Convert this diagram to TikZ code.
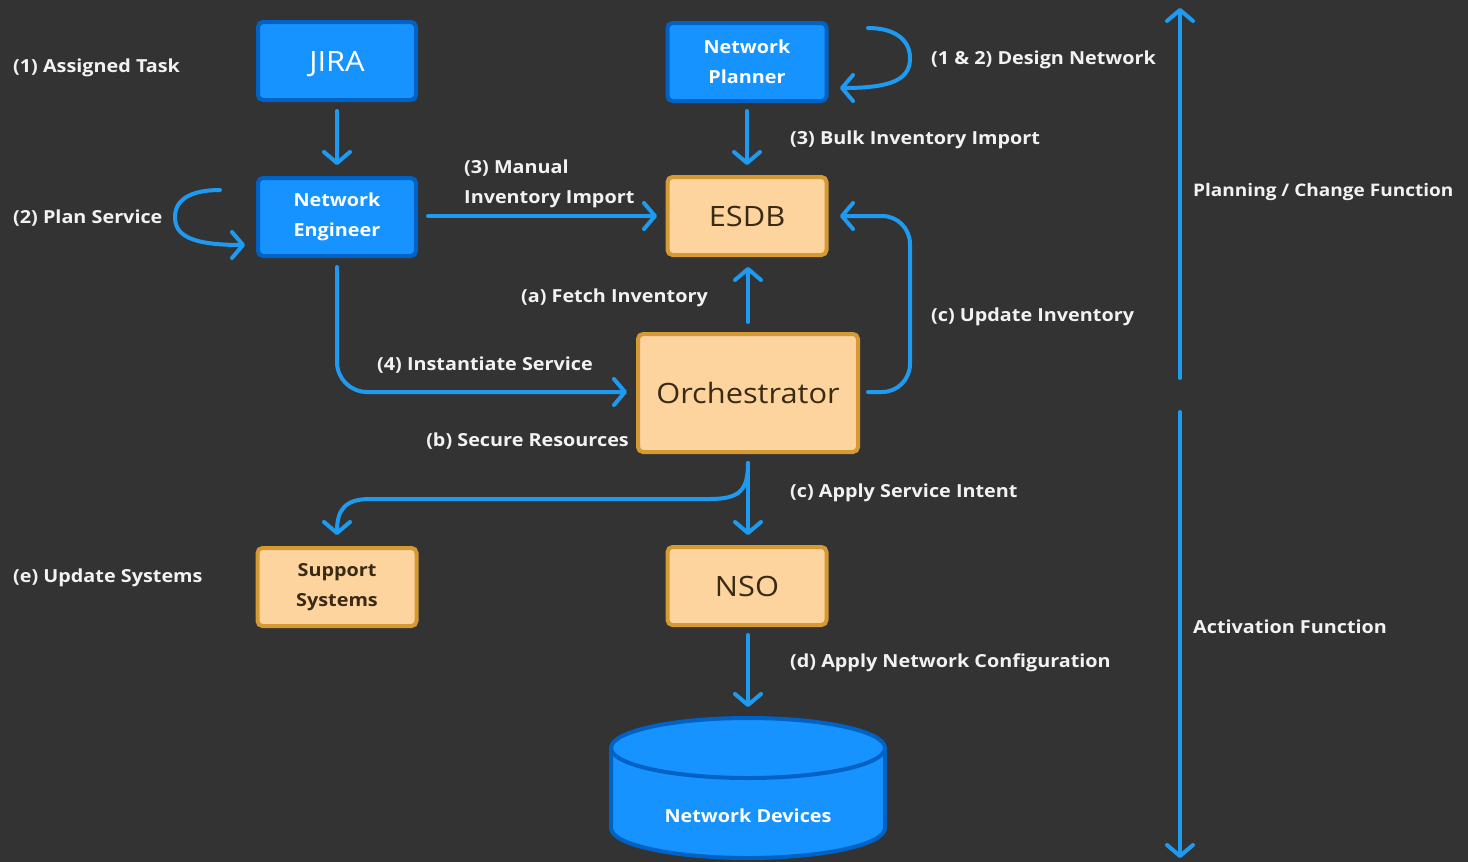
\documentclass[tikz,border=0pt]{standalone}
\usepackage{fontspec}
\setmainfont{Open Sans}[FakeStretch=1.1]
\usetikzlibrary{arrows.meta}
\definecolor{bg}{HTML}{333333}
\definecolor{bfill}{HTML}{1793FF}
\definecolor{bdraw}{HTML}{0062C4}
\definecolor{ofill}{HTML}{FDD49E}
\definecolor{odraw}{HTML}{D59A33}
\definecolor{otext}{HTML}{3A2A14}
\definecolor{arr}{HTML}{1E9BF0}
\definecolor{lbl}{HTML}{F2F2F2}
\tikzset{
  bluebox/.style={draw=bdraw, fill=bfill, line width=4pt, rounded corners=5pt, text=white, align=center, inner sep=0pt},
  orabox/.style={draw=odraw, fill=ofill, line width=4pt, rounded corners=5pt, text=otext, align=center, inner sep=0pt},
  bigtext/.style={font=\fontsize{28}{30}\selectfont, text height=20pt, text depth=0pt},
  lab/.style={text=lbl, font=\fontsize{18}{30}\selectfont\bfseries, inner sep=0pt, align=left},
  flow/.style={draw=arr, line width=4pt, line cap=round, line join=round, -{Straight Barb[length=11pt,width=26pt,round]}}
}
\begin{document}
\begin{tikzpicture}[x=1pt,y=-1pt]
\fill[bg] (0,0) rectangle (1468,862);
\useasboundingbox (0,0) rectangle (1468,862);
% boxes
\node[bluebox, bigtext, minimum width=158pt, minimum height=78pt] (jira) at (337,61) {JIRA};
\node[bluebox, minimum width=159pt, minimum height=78pt, font=\fontsize{18}{30}\selectfont\bfseries] (np) at (747,62) {Network\\Planner};
\node[bluebox, minimum width=158pt, minimum height=78pt, font=\fontsize{18}{30}\selectfont\bfseries] (ne) at (337,217) {Network\\Engineer};
\node[orabox, bigtext, minimum width=159pt, minimum height=78pt] (esdb) at (747,216) {ESDB};
\node[orabox, bigtext, minimum width=220pt, minimum height=118pt] (orch) at (748,393) {Orchestrator};
\node[orabox, minimum width=159pt, minimum height=78pt, font=\fontsize{18}{30}\selectfont\bfseries] (sup) at (337,587) {Support\\Systems};
\node[orabox, bigtext, minimum width=159pt, minimum height=78pt] (nso) at (747,586) {NSO};
% cylinder
\filldraw[draw=bdraw, fill=bfill, line width=4pt] (611,748) -- (611,828) arc[start angle=180,end angle=0,x radius=137,y radius=30] -- (885,748) arc[start angle=0,end angle=-180,x radius=137,y radius=30] -- cycle;
\draw[draw=bdraw, line width=4pt] (611,748) arc[start angle=180,end angle=0,x radius=137,y radius=30];
\node[text=white, font=\fontsize{18}{30}\selectfont\bfseries, inner sep=0pt] (nd) at (748,816) {Network Devices};
% connector anchor coordinates
\coordinate (jiraS) at (337,111);
\coordinate (neN) at (337,165);
\coordinate (npS) at (747,111);
\coordinate (esdbN) at (747,165);
\coordinate (neE) at (428,216);
\coordinate (esdbW) at (657,216);
\coordinate (orchN) at (748,322);
\coordinate (esdbS) at (748,267);
\coordinate (orchE) at (868,392);
\coordinate (esdbE) at (840,216);
\coordinate (neS) at (337,267);
\coordinate (orchW) at (627,392);
\coordinate (orchS) at (748,463);
\coordinate (nsoN) at (748,535);
\coordinate (supN) at (337,535);
\coordinate (nsoS) at (748,635);
\coordinate (ndN) at (748,707);
\coordinate (planTop) at (1180,8);
\coordinate (planBot) at (1180,378);
\coordinate (actTop) at (1180,412);
\coordinate (actBot) at (1180,858);
\coordinate (npA) at (868,28);
\coordinate (npB) at (840,88);
\coordinate (neA) at (220,190);
\coordinate (neB) at (245,245);
% connectors
\draw[flow] (jiraS) -- (neN);
\draw[flow] (npS) -- (esdbN);
\draw[flow] (neE) -- (esdbW);
\draw[flow] (orchN) -- (esdbS);
\draw[flow, rounded corners=28pt] (orchE) -- (910,392) -- (910,216) -- (esdbE);
\draw[flow, rounded corners=30pt] (neS) -- (337,392) -- (orchW);
\draw[flow] (orchS) -- (nsoN);
\draw[flow] (orchS) .. controls (748,490) and (740,499) .. (710,499) -- (370,499) .. controls (345,499) and (337,510) .. (supN);
\draw[flow] (nsoS) -- (ndN);
\draw[flow] (planBot) -- (planTop);
\draw[flow] (actTop) -- (actBot);
\draw[flow] (npA) .. controls (895,28) and (910,40) .. (910,58) .. controls (910,78) and (895,88) .. (npB);
\draw[flow] (neA) .. controls (190,190) and (175,200) .. (175,217) .. controls (175,235) and (190,245) .. (neB);
% labels
\node[lab, anchor=west] (l1) at (13,68) {(1) Assigned Task};
\node[lab, anchor=west] (l2) at (931,60) {(1 \& 2) Design Network};
\node[lab, anchor=west] (l3) at (790,140) {(3) Bulk Inventory Import};
\node[lab, anchor=west] (l4) at (13,218) {(2) Plan Service};
\node[lab, anchor=west] (l5) at (464,184) {(3) Manual\\Inventory Import};
\node[lab, anchor=west, font=\fontsize{17.3}{30}\selectfont\bfseries] (l6) at (1193,192) {Planning / Change Function};
\node[lab, anchor=east] (l7) at (708,298) {(a) Fetch Inventory};
\node[lab, anchor=west] (l8) at (931,317) {(c) Update Inventory};
\node[lab, anchor=west] (l9) at (377,365) {(4) Instantiate Service};
\node[lab, anchor=east] (l10) at (629,441) {(b) Secure Resources};
\node[lab, anchor=west] (l11) at (790,493) {(c) Apply Service Intent};
\node[lab, anchor=west] (l12) at (13,578) {(e) Update Systems};
\node[lab, anchor=west] (l13) at (1193,627) {Activation Function};
\node[lab, anchor=west] (l14) at (790,663) {(d) Apply Network Configuration};
\end{tikzpicture}
\end{document}
